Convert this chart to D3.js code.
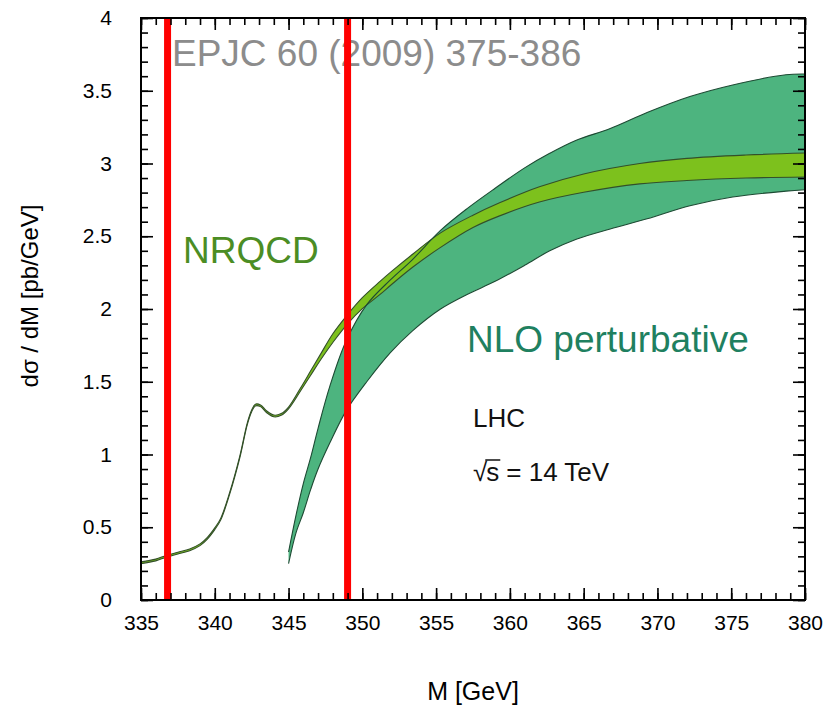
<!DOCTYPE html>
<html><head><meta charset="utf-8">
<script src="https://cdn.jsdelivr.net/npm/d3@7"></script>
<style>
body{margin:0;background:#fff}
svg{display:block}
text{font-family:"Liberation Sans",Arial,Helvetica,sans-serif}
</style></head>
<body><svg id="c" width="830" height="705"></svg>
<script>
// ---------- data ----------
const xTicks = [335,340,345,350,355,360,365,370,375,380];
const xMinorTicks = d3.range(335,381,1);
const yTicks = [0,0.5,1,1.5,2,2.5,3,3.5,4];
const yTickLabels = ["0","0.5","1","1.5","2","2.5","3","3.5","4"];
const yMinorTicks = d3.range(0,41,1).map(d=>d/10);

// NRQCD band
const nrqcdMass  = [335,336,336.7,337.5,338.3,339,339.5,340,340.4,341,341.7,342.2,342.5,342.75,343.1,343.5,344,344.5,345,345.8,346.5,347.2,348,349,350,351.2,352,353.45,355.25,357.5,359.3,362,365,368.8,372,376,380];
const nrqcdUpper = [0.262,0.281,0.306,0.328,0.351,0.386,0.431,0.496,0.561,0.736,0.991,1.216,1.306,1.346,1.341,1.301,1.271,1.281,1.326,1.455,1.575,1.695,1.83,1.962,2.078,2.19,2.26,2.38,2.52,2.645,2.73,2.84,2.928,3.0,3.035,3.058,3.072];
const nrqcdLower = [0.250,0.269,0.294,0.316,0.339,0.374,0.419,0.484,0.549,0.724,0.979,1.204,1.294,1.334,1.329,1.289,1.259,1.269,1.314,1.435,1.545,1.655,1.77,1.898,2.002,2.10,2.17,2.29,2.42,2.56,2.64,2.735,2.802,2.86,2.883,2.90,2.907];

// NLO perturbative band
const nloMass  = [345,345.5,346,346.5,347,347.8,348.9,350.3,351.9,353.4,355.3,357.1,359,361,362.7,364.5,366.8,369.3,372.2,375.1,378.7,380];
const nloUpper = [0.33,0.58,0.80,0.98,1.18,1.47,1.78,2.03,2.20,2.34,2.54,2.69,2.83,2.97,3.07,3.16,3.24,3.35,3.46,3.54,3.61,3.615];
const nloLower = [0.25,0.46,0.60,0.76,0.90,1.08,1.30,1.50,1.70,1.85,2.00,2.10,2.19,2.30,2.40,2.48,2.55,2.62,2.71,2.77,2.81,2.82];

// vertical markers
const cutLines = [336.8, 349.0];

// ---------- drawing ----------
const svg = d3.select("#c");
const L=141, R=805, T=18, B=600;
const x = d3.scaleLinear().domain([335,380]).range([L,R]);
const y = d3.scaleLinear().domain([0,4]).range([B,T]);

const nrqcd = nrqcdMass.map((m,i)=>({m, u:nrqcdUpper[i], l:nrqcdLower[i]}));
const nlo = nloMass.map((m,i)=>({m, u:nloUpper[i], l:nloLower[i]}));

const curve = d3.curveCatmullRom.alpha(0.5);
const area = d3.area().x(d=>x(d.m)).y0(d=>y(d.l)).y1(d=>y(d.u)).curve(curve);
const upLine = d3.line().x(d=>x(d.m)).y(d=>y(d.u)).curve(curve);
const loLine = d3.line().x(d=>x(d.m)).y(d=>y(d.l)).curve(curve);

// watermark text
svg.append("text").attr("x",172).attr("y",66).attr("font-size",37).attr("fill","#8c8c8c").text("EPJC 60 (2009) 375-386");

// bands
svg.append("path").attr("d",area(nlo)).attr("fill","#4db47f");
svg.append("path").attr("d",area(nrqcd)).attr("fill","#7dc11d");
svg.append("path").attr("d",upLine(nrqcd)).attr("fill","none").attr("stroke","#33502a").attr("stroke-width",1.1);
svg.append("path").attr("d",loLine(nrqcd)).attr("fill","none").attr("stroke","#33502a").attr("stroke-width",1.1);
svg.append("path").attr("d",upLine(nlo)).attr("fill","none").attr("stroke","#1d4a33").attr("stroke-width",1.1);
svg.append("path").attr("d",loLine(nlo)).attr("fill","none").attr("stroke","#1d4a33").attr("stroke-width",1.1);

// labels
svg.append("text").attr("x",183).attr("y",263).attr("font-size",37).attr("fill","#4b8d24").text("NRQCD");
svg.append("text").attr("x",467).attr("y",352).attr("font-size",37).attr("fill","#1f8060").text("NLO perturbative");
svg.append("text").attr("x",473).attr("y",427).attr("font-size",26).attr("fill","#111").text("LHC");
const sq = svg.append("g");
const t1 = sq.append("text").attr("x",473).attr("y",481).attr("font-size",26).attr("fill","#111").text("\u221A");
const w1 = t1.node().getComputedTextLength();
const t2 = sq.append("text").attr("x",473+w1-1).attr("y",481).attr("font-size",26).attr("fill","#111").text("s");
const w2 = t2.node().getComputedTextLength();
sq.append("line").attr("x1",473+w1-2).attr("x2",473+w1+w2).attr("y1",460).attr("y2",460).attr("stroke","#111").attr("stroke-width",1.5);
sq.append("text").attr("x",473+w1+w2+6).attr("y",481).attr("font-size",26).attr("fill","#111").text("= 14 TeV");

// red marker lines
svg.selectAll(".cut").data(cutLines).enter().append("line")
  .attr("x1",d=>x(d)).attr("x2",d=>x(d)).attr("y1",T).attr("y2",B)
  .attr("stroke","#ff0000").attr("stroke-width",7);

// axes
function style(g){
  g.select(".domain").remove();
  g.selectAll(".tick line").attr("stroke","#000").attr("stroke-width",1.6);
  g.selectAll("text").attr("font-family","'Liberation Sans',Arial,sans-serif").attr("fill","#000");
}
svg.append("g").attr("transform",`translate(0,${B})`)
  .call(d3.axisBottom(x).tickValues(xMinorTicks).tickSize(-7).tickFormat("")).call(style);
svg.append("g").attr("transform",`translate(0,${B})`)
  .call(d3.axisBottom(x).tickValues(xTicks).tickSize(-12).tickPadding(15).tickFormat(d3.format("d")))
  .call(style).call(g=>g.selectAll("text").attr("font-size",21));
svg.append("g").attr("transform",`translate(0,${T})`)
  .call(d3.axisTop(x).tickValues(xMinorTicks).tickSize(-7).tickFormat("")).call(style);
svg.append("g").attr("transform",`translate(0,${T})`)
  .call(d3.axisTop(x).tickValues(xTicks).tickSize(-12).tickFormat("")).call(style);

svg.append("g").attr("transform",`translate(${L},0)`)
  .call(d3.axisLeft(y).tickValues(yMinorTicks).tickSize(-7).tickFormat("")).call(style);
svg.append("g").attr("transform",`translate(${L},0)`)
  .call(d3.axisLeft(y).tickValues(yTicks).tickSize(-12).tickPadding(29).tickFormat((d,i)=>yTickLabels[i]))
  .call(style).call(g=>g.selectAll("text").attr("font-size",21));
svg.append("g").attr("transform",`translate(${R},0)`)
  .call(d3.axisRight(y).tickValues(yMinorTicks).tickSize(-7).tickFormat("")).call(style);
svg.append("g").attr("transform",`translate(${R},0)`)
  .call(d3.axisRight(y).tickValues(yTicks).tickSize(-12).tickFormat("")).call(style);

// frame
svg.append("rect").attr("x",L).attr("y",T).attr("width",R-L).attr("height",B-T)
  .attr("fill","none").attr("stroke","#000").attr("stroke-width",2);

// axis titles
svg.append("text").attr("x",473).attr("y",700).attr("text-anchor","middle").attr("font-size",25).attr("fill","#000").text("M [GeV]");
svg.append("text").attr("transform","translate(38,296) rotate(-90)").attr("text-anchor","middle").attr("font-size",24).attr("fill","#000").text("d\u03C3 / dM [pb/GeV]");
</script></body></html>
